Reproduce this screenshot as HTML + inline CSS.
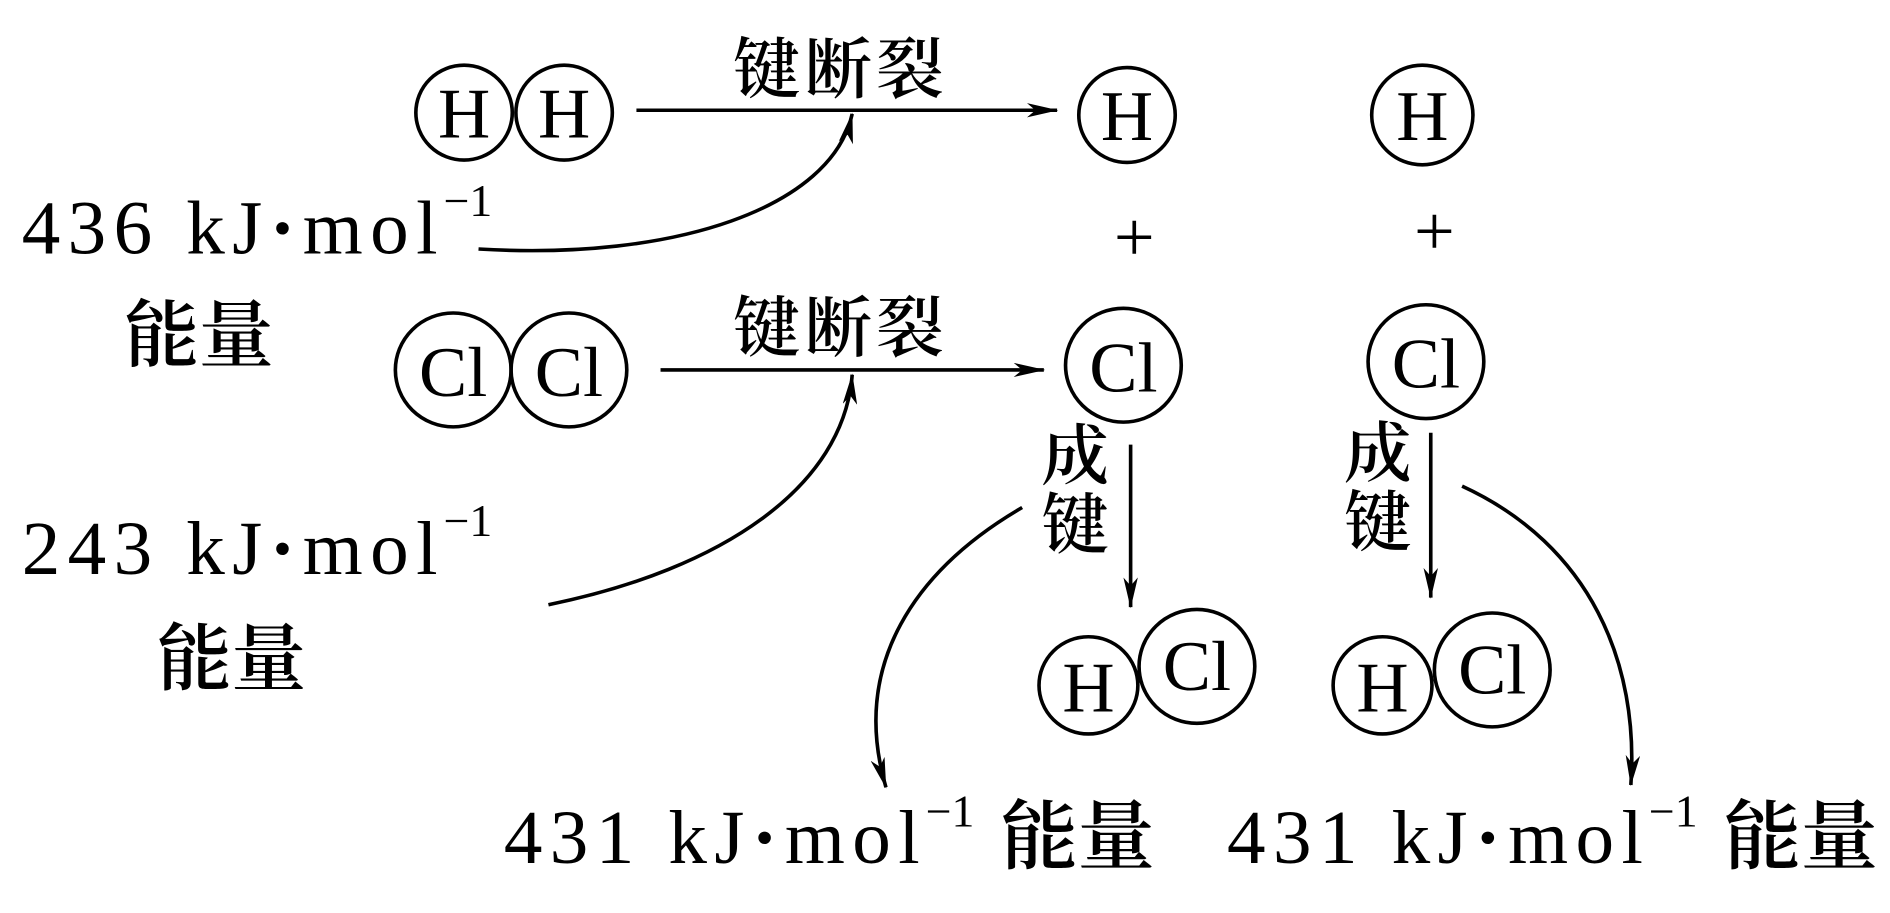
<!DOCTYPE html>
<html><head><meta charset="utf-8"><style>
html,body{margin:0;padding:0;background:#fff;}
svg{display:block;}
text{font-family:"Liberation Serif","Noto Serif CJK SC",serif;fill:#000;}
.cj{font-family:"Liberation Serif","Noto Serif CJK SC","Noto Sans CJK SC",serif;font-weight:600;}
</style></head><body>
<svg width="1890" height="913" viewBox="0 0 1568 770" preserveAspectRatio="none" xmlns="http://www.w3.org/2000/svg">
<defs>
<marker id="ah" viewBox="0 0 26 12" refX="25" refY="6" markerWidth="26" markerHeight="12" markerUnits="userSpaceOnUse" orient="auto">
<path d="M0,0 L26,6 L0,12 L7,6 Z" fill="#000"/>
</marker>
</defs>
<g fill="none" stroke="#000" stroke-width="3">
<circle cx="385" cy="95" r="40"/><circle cx="468" cy="95" r="40"/>
<circle cx="935" cy="97" r="40"/><circle cx="1180" cy="97" r="42"/>
<circle cx="376" cy="312" r="48"/><circle cx="472" cy="312" r="48"/>
<circle cx="932" cy="308" r="48"/><circle cx="1183" cy="305" r="48"/>
<circle cx="903" cy="578" r="41"/><circle cx="993" cy="562" r="48"/>
<circle cx="1147" cy="578" r="41"/><circle cx="1238" cy="565" r="48"/>
<line x1="528" y1="93" x2="877" y2="93" marker-end="url(#ah)"/>
<line x1="548" y1="312" x2="866" y2="312" marker-end="url(#ah)"/>
<line x1="938" y1="375" x2="938" y2="512" marker-end="url(#ah)"/>
<line x1="1187" y1="365" x2="1187" y2="504" marker-end="url(#ah)"/>
<path d="M397,210 C560,220 690,175 707,96" marker-end="url(#ah)"/>
<path d="M455,510 C600,480 700,410 707,316" marker-end="url(#ah)"/>
<path d="M848,428 C760,480 705,560 735,664" marker-end="url(#ah)"/>
<path d="M1213,410 C1320,460 1360,560 1353,662" marker-end="url(#ah)"/>
</g>
<g font-size="60" text-anchor="middle">
<text x="385" y="116">H</text><text x="468" y="116">H</text>
<text x="935" y="118">H</text><text x="1180" y="118">H</text>
<text x="376" y="334">Cl</text><text x="472" y="334">Cl</text>
<text x="932" y="330">Cl</text><text x="1183" y="327">Cl</text>
<text x="903" y="600">H</text><text x="993" y="582">Cl</text>
<text x="1147" y="600">H</text><text x="1238" y="585">Cl</text>
<text x="941" y="220" font-size="60" font-family="Liberation Sans">+</text>
<text x="1190" y="215" font-size="60" font-family="Liberation Sans">+</text>
</g>
<g class="cj" font-size="56">
<text x="608" y="78" textLength="175">键断裂</text>
<text x="608" y="296" textLength="175">键断裂</text>
<text x="864" y="404">成</text><text x="864" y="462">键</text>
<text x="1115" y="402">成</text><text x="1115" y="460">键</text>
<text x="103" y="304" font-size="62">能量</text>
<text x="130" y="577" font-size="62">能量</text>
</g>
<g font-size="64">
<text x="18" y="214" textLength="345">436 kJ<tspan font-weight="bold">·</tspan>mol</text>
<text x="368" y="182" font-size="38">−1</text>
<text x="18" y="484" textLength="345">243 kJ<tspan font-weight="bold">·</tspan>mol</text>
<text x="368" y="452" font-size="38">−1</text>
<text x="418" y="728" textLength="345">431 kJ<tspan font-weight="bold">·</tspan>mol</text>
<text x="768" y="697" font-size="38">−1</text>
<text x="830" y="728" class="cj" font-size="64">能量</text>
<text x="1018" y="728" textLength="345">431 kJ<tspan font-weight="bold">·</tspan>mol</text>
<text x="1368" y="697" font-size="38">−1</text>
<text x="1430" y="728" class="cj" font-size="64">能量</text>
</g>
</svg>
</body></html>
